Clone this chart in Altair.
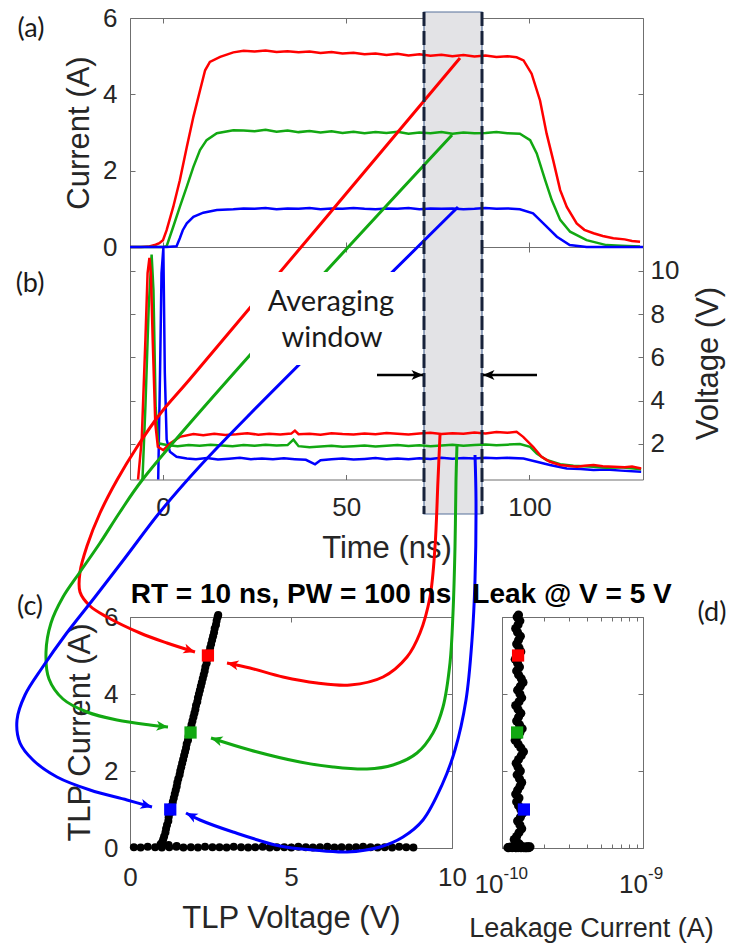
import math
import altair as alt
import pandas as pd

# ===================== data =====================
# (a) TLP current waveforms: time (ns) and current (A)
t_a_red = [-9, -6, -4, -2, -1, 0, 1, 2.8, 4.6, 6.5, 8.3, 10.1, 11.5, 12.8, 15.6, 19.2, 22, 25, 28, 31,
           34, 37, 40, 43, 46, 49, 52, 55, 58, 61, 64, 67, 70, 73, 76, 79, 82, 85, 88, 91,
           94, 96.5, 98.4, 100.6, 102.9, 104.7, 106.5, 108.4, 110.2, 112.9, 115, 117.5, 120, 122.9, 126, 128, 130.2]
i_a_red = [0, 0, 0.01, 0.06, 0.1, 0.18, 0.44, 1.05, 1.75, 2.62, 3.41, 4.1, 4.63, 4.85, 4.98, 5.1, 5.14, 5.12, 5.15, 5.11,
           5.13, 5.1, 5.12, 5.08, 5.11, 5.07, 5.09, 5.05, 5.07, 5.03, 5.06, 5.02, 5.05, 5.01, 5.04, 5.0, 5.03, 4.99, 5.02, 4.98,
           5.0, 4.97, 4.89, 4.54, 3.84, 2.97, 2.27, 1.49, 1.05, 0.62, 0.45, 0.36, 0.29, 0.23, 0.2, 0.16, 0.14]
t_a_green = [-9, -2, 0, 1, 2.8, 4.6, 6.5, 8.3, 10.1, 11.9, 14.7, 19.2, 22, 25, 28, 31, 34, 37, 40, 43,
             46, 49, 52, 55, 58, 61, 64, 67, 70, 73, 76, 79, 82, 85, 88, 91, 94, 97.4, 100.2, 102,
             104.3, 106.1, 108.4, 111.1, 115.6, 121, 125, 130.2]
i_a_green = [0, 0, 0, 0.02, 0.53, 1.05, 1.58, 2.1, 2.54, 2.8, 2.98, 3.06, 3.05, 3.03, 3.07, 3.02, 3.05, 3.01, 3.04, 3.0,
             3.03, 2.99, 3.02, 2.98, 3.01, 2.99, 3.02, 2.97, 3.0, 2.98, 3.01, 2.97, 3.0, 2.98, 2.99, 3.01, 2.98, 2.97, 2.8, 2.45,
             1.75, 1.23, 0.71, 0.4, 0.18, 0.05, 0.03, 0.01]
t_a_blue = [-9, 1, 3.7, 4.6, 5.4, 6.5, 8.3, 11, 14.7, 19.2, 22, 25, 28, 31, 34, 37, 40, 43, 46, 49,
            52, 55, 58, 61, 64, 67, 70, 73, 76, 79, 82, 85, 88, 91, 94, 97.4, 101, 103.8, 107.5, 111, 115.6, 131]
i_a_blue = [0, 0, 0.02, 0.23, 0.44, 0.62, 0.79, 0.9, 0.97, 0.99, 1.01, 1.0, 1.02, 0.99, 1.01, 1.0, 1.02, 0.99, 1.01, 1.0,
            1.02, 1.0, 0.99, 1.01, 1.0, 1.02, 0.99, 1.01, 1.0, 1.01, 0.99, 1.0, 1.02, 1.0, 1.01, 0.99, 0.88, 0.62, 0.27, 0.05, 0.0, 0.0]

# (b) TLP voltage waveforms: time (ns) and voltage (V)
t_b_red = [-6.8, -5.8, -4.8, -4.2, -3.7, -3.3, -2.8, -2.1, -1.4, 0.1, 1.9, 4.6, 8.3, 11, 14, 17, 20, 23, 26, 29,
           32, 35, 36, 37, 40, 43, 46, 49, 52, 55, 58, 61, 64, 67, 70, 73, 76, 79, 82, 85,
           88, 91, 94, 96.5, 98.3, 101, 103.3, 105.6, 108.4, 111, 113, 115, 117.5, 120, 123, 126, 128, 130.5]
v_b_red = [0.36, 2.2, 6.8, 9.9, 10.6, 9.9, 6.8, 2.95, 1.87, 1.72, 2.03, 2.33, 2.46, 2.4, 2.47, 2.42, 2.45, 2.5, 2.43, 2.47,
           2.44, 2.48, 2.62, 2.45, 2.47, 2.43, 2.5, 2.46, 2.44, 2.49, 2.45, 2.51, 2.47, 2.44, 2.48, 2.52, 2.46, 2.5, 2.47, 2.53,
           2.49, 2.55, 2.52, 2.56, 2.33, 1.87, 1.41, 1.18, 1.03, 0.98, 0.95, 1.0, 1.03, 0.97, 0.95, 0.93, 0.96, 0.87]
t_b_green = [-5.6, -4.8, -3.9, -3.1, -2.6, -2.0, -1.3, 1, 4, 7, 10, 13, 16, 19, 22, 25, 28, 31, 34, 35.6,
             37, 40, 43, 46, 49, 52, 55, 58, 61, 64, 67, 70, 73, 76, 79, 82, 85, 88, 91, 94,
             97.4, 100.2, 102, 104.7, 108.4, 112, 117.5, 121, 125, 130.5]
v_b_green = [0.36, 3.7, 8.3, 10.75, 9.1, 3.7, 2.03, 1.95, 1.9, 1.95, 1.92, 1.97, 1.93, 1.9, 1.95, 1.92, 1.96, 1.93, 1.95, 2.2,
             1.9, 1.85, 1.88, 1.92, 1.87, 1.9, 1.93, 1.89, 1.92, 1.95, 1.91, 1.94, 1.9, 1.93, 1.96, 1.92, 1.95, 1.98, 1.94, 1.97,
             2.0, 1.87, 1.56, 1.26, 1.07, 1.0, 0.95, 0.9, 0.92, 0.83]
t_b_blue = [-1.3, -0.8, -0.4, 0.1, 0.5, 1, 1.9, 3.7, 6.5, 9, 12, 15, 18, 21, 24, 27, 30, 33, 36, 39,
            41.5, 43, 46, 49, 52, 55, 58, 61, 64, 67, 70, 73, 76, 79, 82, 85, 88, 91, 94, 98.4,
            102, 105.6, 110.2, 114, 117.5, 121, 125, 130.5]
v_b_blue = [0.36, 5.3, 9.9, 11.05, 5.3, 2.2, 1.64, 1.41, 1.33, 1.3, 1.35, 1.28, 1.32, 1.36, 1.3, 1.33, 1.29, 1.34, 1.3, 1.27,
            1.06, 1.25, 1.3, 1.33, 1.28, 1.31, 1.35, 1.3, 1.33, 1.29, 1.34, 1.31, 1.36, 1.32, 1.35, 1.33, 1.37, 1.34, 1.36, 1.33,
            1.18, 1.03, 0.87, 0.84, 0.8, 0.82, 0.77, 0.72]

# (c)/(d) TLP I-V points and leakage (x 1e-10 A) after each pulse
zero_v = [0.12, 0.33, 0.55, 0.78, 0.99, 1.22, 1.44, 1.66, 1.89, 2.11,
          2.33, 2.56, 2.78, 3.0, 3.22, 3.45, 3.67, 3.89, 4.12, 4.34,
          4.56, 4.79, 5.01, 5.23, 5.46, 5.68, 5.9, 6.13, 6.35, 6.57,
          6.8, 7.02, 7.24, 7.47, 7.69, 7.91, 8.14, 8.36, 8.58, 8.8]
zero_i = [0.02, 0.01, 0.03, 0.02, 0.01, 0.02, 0.03, 0.01, 0.02, 0.01,
          0.03, 0.02, 0.02, 0.01, 0.03, 0.02, 0.01, 0.02, 0.03, 0.01,
          0.02, 0.02, 0.01, 0.03, 0.02, 0.01, 0.02, 0.03, 0.01, 0.02,
          0.01, 0.02, 0.03, 0.02, 0.01, 0.02, 0.01, 0.03, 0.02, 0.01]
zero_leak = [1.42, 1.18, 1.5, 1.3, 1.12, 1.56, 1.25, 1.35, 1.15, 1.48,
             1.22, 1.44, 1.32, 1.1, 1.53, 1.27, 1.38, 1.18, 1.58, 1.3,
             1.2, 1.46, 1.26, 1.36, 1.13, 1.51, 1.33, 1.23, 1.42, 1.16,
             1.55, 1.27, 1.35, 1.19, 1.48, 1.32, 1.25, 1.4, 1.14, 1.45]
rise_i = [0.05, 0.08, 0.1, 0.15, 0.22, 0.3, 0.4, 0.5, 0.6, 0.7,
          0.8, 0.9, 1.0, 1.1, 1.2, 1.3, 1.4, 1.5, 1.6, 1.7,
          1.8, 1.9, 2.0, 2.1, 2.2, 2.3, 2.4, 2.5, 2.6, 2.7,
          2.8, 2.9, 3.0, 3.1, 3.2, 3.3, 3.4, 3.5, 3.6, 3.7,
          3.8, 3.9, 4.0, 4.1, 4.2, 4.3, 4.4, 4.5, 4.6, 4.7,
          4.8, 4.9, 5.0, 5.1, 5.2, 5.3, 5.4, 5.5, 5.6, 5.7,
          5.8, 5.9, 6.0, 6.05]
rise_v = [1.45, 1.2, 0.95, 1.0, 1.03, 1.06, 1.1, 1.12, 1.15, 1.19,
          1.2, 1.24, 1.27, 1.3, 1.33, 1.36, 1.39, 1.42, 1.45, 1.47,
          1.5, 1.54, 1.56, 1.59, 1.62, 1.65, 1.68, 1.71, 1.74, 1.76,
          1.8, 1.82, 1.85, 1.88, 1.91, 1.94, 1.97, 2.0, 2.03, 2.05,
          2.09, 2.11, 2.14, 2.17, 2.2, 2.23, 2.26, 2.29, 2.32, 2.34,
          2.38, 2.4, 2.43, 2.46, 2.49, 2.52, 2.55, 2.58, 2.61, 2.63,
          2.67, 2.69, 2.72, 2.74]
rise_leak = [1.30, 1.26, 1.33, 1.28, 1.22, 1.27, 1.32, 1.38, 1.34, 1.29,
             1.35, 1.40, 1.36, 1.31, 1.27, 1.32, 1.25, 1.29, 1.34, 1.38,
             1.33, 1.28, 1.35, 1.30, 1.26, 1.31, 1.37, 1.42, 1.36, 1.30,
             1.24, 1.29, 1.34, 1.39, 1.33, 1.27, 1.31, 1.36, 1.30, 1.25,
             1.32, 1.38, 1.34, 1.29, 1.35, 1.41, 1.37, 1.31, 1.27, 1.33,
             1.29, 1.24, 1.30, 1.36, 1.32, 1.27, 1.31, 1.35, 1.29, 1.25,
             1.30, 1.34, 1.28, 1.31]
# highlighted (averaged) points, one per waveform
sq_key = ["r", "g", "b"]
sq_v = [2.42, 1.88, 1.25]
sq_i = [5, 3, 1]
sq_leak = [1.30, 1.28, 1.43]
# leakage axis tick labels (base, exponent)
d_tick_vals = [1e-10, 1e-9]
d_tick_exp = ["-10", "-9"]

# ===================== layout / style =====================
W, H = 732, 945
FONT = "Liberation Sans"
FONT2 = "Lato"
AXC = "#6f6f6f"
LABC = "#262626"
COLOR = alt.Scale(domain=["r", "g", "b", "k"], range=["#ff0000", "#12a812", "#0000ff", "#000000"])


def lin(domain, rng):
    return alt.Scale(domain=domain, range=rng, nice=False, zero=False)


# pixel frames of the panels
sT = lin([-9, 131], [130, 643])       # time axis (a),(b)
sA = lin([0, 6], [247, 18])           # current (a)
sB = lin([0.36, 11.1], [479.5, 247])  # voltage (b)
sCX = lin([0, 10], [130, 452])        # TLP voltage (c)
sCY = lin([0, 6], [848, 617])         # TLP current (c),(d)
sDX = alt.Scale(type="log", domain=[1e-10, 1e-9], range=[502, 643], nice=False)
sPX = lin([0, W], [0, W])             # annotation overlay
sPY = lin([0, H], [0, H])


def ax(orient, offset, values, labels=False, ticks=True, domain=True, **kw):
    p = dict(orient=orient, offset=offset, values=values, labels=labels, ticks=ticks,
             tickSize=(kw.pop("tickSize", 5) if ticks else 0), domain=domain, grid=False,
             domainColor=AXC, domainWidth=1, tickColor=AXC, tickWidth=1,
             labelFont=FONT, labelFontSize=26, labelColor=LABC, labelFlush=False, labelOverlap=False,
             titleFont=FONT, titleFontSize=31, titleColor=LABC, titleFontWeight="normal",
             titleAlign="center", titleBaseline="middle")
    if "title" not in kw:
        p["title"] = None
    p.update(kw)
    return alt.Axis(**p)


def axl(xs, ys, xd, yd, xa=None, ya=None):
    df = pd.DataFrame({"x": xd, "y": yd})
    return alt.Chart(df).mark_point(opacity=0).encode(
        x=alt.X("x:Q", scale=xs, axis=xa), y=alt.Y("y:Q", scale=ys, axis=ya))


def series_df(items, xname, yname):
    frames = []
    for xs, ys, key in items:
        frames.append(pd.DataFrame({xname: xs, yname: ys, "c": key, "o": list(range(len(xs)))}))
    return pd.concat(frames, ignore_index=True)


layers = []

# ---- averaging window (background) ----
win = pd.DataFrame({"x": [424], "x2": [482], "y": [12], "y2": [514]})
layers.append(alt.Chart(win).mark_rect(fill="#e3e3e6", stroke="#56709a", strokeWidth=1.2).encode(
    x=alt.X("x:Q", scale=sPX, axis=None), x2="x2:Q", y=alt.Y("y:Q", scale=sPY, axis=None), y2="y2:Q"))

# ---- (a) current waveforms ----
dfa = series_df([(t_a_red, i_a_red, "r"), (t_a_green, i_a_green, "g"), (t_a_blue, i_a_blue, "b")], "t", "v")
layers.append(alt.Chart(dfa).mark_line(strokeWidth=2.5).encode(
    x=alt.X("t:Q", scale=sT, axis=None), y=alt.Y("v:Q", scale=sA, axis=None),
    color=alt.Color("c:N", scale=COLOR, legend=None), order="o:Q"))

# ---- (b) voltage waveforms ----
dfb = series_df([(t_b_blue, v_b_blue, "b"), (t_b_green, v_b_green, "g"), (t_b_red, v_b_red, "r")], "t", "v")
layers.append(alt.Chart(dfb).mark_line(strokeWidth=2.5).encode(
    x=alt.X("t:Q", scale=sT, axis=None), y=alt.Y("v:Q", scale=sB, axis=None),
    color=alt.Color("c:N", scale=COLOR, legend=None), order="o:Q"))

# ---- (c) TLP I-V and (d) leakage ----
dfc = pd.DataFrame({"v": zero_v + rise_v, "i": zero_i + rise_i,
                    "leak": [m * 1e-10 for m in zero_leak + rise_leak]})
layers.append(alt.Chart(dfc).mark_circle(size=64, color="black", opacity=1).encode(
    x=alt.X("v:Q", scale=sCX, axis=None), y=alt.Y("i:Q", scale=sCY, axis=None)))
layers.append(alt.Chart(dfc).mark_circle(size=82, color="black", opacity=1).encode(
    x=alt.X("leak:Q", scale=sDX, axis=None), y=alt.Y("i:Q", scale=sCY, axis=None)))

# ---- connector curves (annotation overlay, pixel coordinates) ----
red_left = [(460, 58), (190, 379), (160, 414), (137, 447), (117, 480), (100, 513), (87, 546), (80, 572),
            (80, 592), (90, 606), (107, 617), (140, 633), (167, 643), (195, 652)]
green_left = [(452, 135), (250, 355), (143, 479), (120, 512), (100, 543), (80, 572), (63, 597), (51, 623),
              (46, 652), (49, 679), (63, 699), (87, 712), (117, 720), (150, 725), (168, 727)]
blue_left = [(458, 207), (250, 414), (200, 466), (160, 512), (125, 558), (95, 597), (66, 634), (42, 668),
             (25, 695), (17, 720), (20, 743), (33, 760), (57, 777), (90, 790), (127, 800), (152, 807)]
red_right = [(440, 435), (438, 480), (435, 547), (430, 597), (420, 633), (407, 657), (383, 677), (350, 685),
             (317, 683), (283, 677), (250, 668), (227, 663)]
green_right = [(457, 444), (456, 480), (455, 547), (453, 613), (450, 663), (443, 707), (433, 733), (417, 753),
               (393, 765), (367, 769), (333, 767), (300, 762), (250, 750), (211, 738)]
blue_right = [(475, 455), (476, 500), (475, 580), (472, 640), (466, 700), (455, 750), (442, 785), (423, 820),
              (403, 837), (380, 847), (347, 852), (313, 850), (280, 846), (233, 832), (200, 820), (186, 813)]
black_in = [(377, 375), (423, 375)]
black_out = [(537, 375), (483, 375)]

curves = [("r", red_left), ("g", green_left), ("b", blue_left),
          ("r", red_right), ("g", green_right), ("b", blue_right)]
arrows = [("k", black_in), ("k", black_out)]


def path_df(items):
    rows = []
    for gi, (c, pts) in enumerate(items):
        for oi, (x, y) in enumerate(pts):
            rows.append({"x": x, "y": y, "c": c, "g": gi, "o": oi})
    return pd.DataFrame(rows)


layers.append(alt.Chart(path_df(curves)).mark_line(strokeWidth=3, interpolate="catmull-rom").encode(
    x=alt.X("x:Q", scale=sPX, axis=None), y=alt.Y("y:Q", scale=sPY, axis=None),
    color=alt.Color("c:N", scale=COLOR, legend=None), detail="g:N", order="o:Q"))

# white text box behind the label
box = pd.DataFrame({"x": [250], "x2": [400], "y": [272], "y2": [365]})
layers.append(alt.Chart(box).mark_rect(fill="white").encode(
    x=alt.X("x:Q", scale=sPX, axis=None), x2="x2:Q", y=alt.Y("y:Q", scale=sPY, axis=None), y2="y2:Q"))

# window dashed edges
edges = pd.DataFrame({"x": [424, 482], "y": [12, 12], "y2": [514, 514]})
layers.append(alt.Chart(edges).mark_rule(color="#17223b", strokeWidth=3, strokeDash=[14, 5]).encode(
    x=alt.X("x:Q", scale=sPX, axis=None), y=alt.Y("y:Q", scale=sPY, axis=None), y2="y2:Q"))

# black arrows
layers.append(alt.Chart(path_df(arrows)).mark_line(strokeWidth=2.6).encode(
    x=alt.X("x:Q", scale=sPX, axis=None), y=alt.Y("y:Q", scale=sPY, axis=None),
    color=alt.Color("c:N", scale=COLOR, legend=None), detail="g:N", order="o:Q"))

# highlighted squares in (c) and (d)
dsq = pd.DataFrame({"v": sq_v, "i": sq_i, "leak": [m * 1e-10 for m in sq_leak], "c": sq_key})
layers.append(alt.Chart(dsq).mark_square(size=150, opacity=1).encode(
    x=alt.X("v:Q", scale=sCX, axis=None), y=alt.Y("i:Q", scale=sCY, axis=None),
    color=alt.Color("c:N", scale=COLOR, legend=None)))
layers.append(alt.Chart(dsq).mark_square(size=150, opacity=1).encode(
    x=alt.X("leak:Q", scale=sDX, axis=None), y=alt.Y("i:Q", scale=sCY, axis=None),
    color=alt.Color("c:N", scale=COLOR, legend=None)))

# arrowheads at the end of every connector
heads = []
for c, pts in curves + arrows:
    (x1, y1), (x2, y2) = pts[-2], pts[-1]
    ang = (math.degrees(math.atan2(y2 - y1, x2 - x1)) + 360) % 360
    heads.append({"x": x2, "y": y2, "ang": ang, "c": c})
layers.append(alt.Chart(pd.DataFrame(heads)).mark_point(
    shape="M0,0L-1.15,-0.5L-0.85,0L-1.15,0.5Z", filled=True, size=400, opacity=1).encode(
    x=alt.X("x:Q", scale=sPX, axis=None), y=alt.Y("y:Q", scale=sPY, axis=None),
    color=alt.Color("c:N", scale=COLOR, legend=None), angle=alt.Angle("ang:Q", scale=None)))


def text_layer(items, font, size, weight="normal", color="#1a1a1a"):
    df = pd.DataFrame(items, columns=["text", "x", "y"])
    return alt.Chart(df).mark_text(font=font, fontSize=size, fontWeight=weight, color=color,
                                   align="center", baseline="middle").encode(
        x=alt.X("x:Q", scale=sPX, axis=None), y=alt.Y("y:Q", scale=sPY, axis=None), text="text:N")


layers.append(text_layer([("Averaging", 331, 302), ("window", 332, 338)], FONT2, 29))
layers.append(text_layer([("(a)", 31, 29), ("(b)", 30, 284), ("(c)", 30, 607), ("(d)", 712, 613)], FONT2, 27))
layers.append(text_layer([("RT = 10 ns, PW = 100 ns", 291, 595), ("Leak @ V = 5 V", 572, 595)], FONT, 28,
                         "bold", "#000000"))

# leakage axis labels: "10" with a raised exponent, centred on each tick as a whole
for val, ex, shift in zip(d_tick_vals, d_tick_exp, [1.5, 5]):
    dl = pd.DataFrame({"x": [val], "y": [0], "b": ["10"], "e": [ex]})
    layers.append(alt.Chart(dl).mark_text(font=FONT, fontSize=26, color=LABC, align="right",
                                          baseline="middle", dx=shift, dy=37).encode(
        x=alt.X("x:Q", scale=sDX, axis=None), y=alt.Y("y:Q", scale=sCY, axis=None), text="b:N"))
    layers.append(alt.Chart(dl).mark_text(font=FONT, fontSize=17, color=LABC, align="left",
                                          baseline="middle", dx=shift, dy=26).encode(
        x=alt.X("x:Q", scale=sDX, axis=None), y=alt.Y("y:Q", scale=sCY, axis=None), text="e:N"))

# ---- axes (labels outside, ticks pointing inward like the original) ----
tv = [0, 50, 100]
ay = [0, 2, 4, 6]
by = [2, 4, 6, 8, 10]
cx = [0, 5, 10]
dall = [k * 1e-10 for k in range(1, 11)]
TD, AD, BD, CXD, CYD, DXD = [-9, 131], [0, 6], [0.36, 11.1], [0, 10], [0, 6], [1e-10, 1e-9]

# (a)
layers.append(axl(sT, sA, TD, AD,
                  xa=ax("top", -247, tv),
                  ya=ax("left", -130, ay, labels=True, ticks=False, labelPadding=13,
                        title="Current (A)", titleX=-51, titleY=132.5, titleAngle=270)))
layers.append(axl(sT, sA, TD, AD, xa=ax("bottom", -927, tv), ya=ax("right", -602, ay, domain=False)))
layers.append(axl(sT, sA, TD, AD, ya=ax("left", -643, ay)))
# (b)
layers.append(axl(sT, sB, TD, BD,
                  xa=ax("bottom", -465.5, tv, labels=True, ticks=False, labelPadding=15,
                        title="Time (ns)", titleX=386.5, titleY=68.5),
                  ya=ax("right", -89, by, labels=True, ticks=False, labelPadding=7,
                        title="Voltage (V)", titleX=65, titleY=363, titleAngle=270)))
layers.append(axl(sT, sB, TD, BD, xa=ax("top", -479.5, tv, domain=False), ya=ax("right", -602, by)))
layers.append(axl(sT, sB, TD, BD, xa=ax("bottom", -698, tv, domain=False), ya=ax("left", -643, by, domain=False)))
# (c)
layers.append(axl(sCX, sCY, CXD, CYD,
                  xa=ax("bottom", -97, cx, labels=True, ticks=False, labelPadding=16,
                        title="TLP Voltage (V)", titleX=291, titleY=70),
                  ya=ax("left", -130, ay, labels=True, ticks=False, labelPadding=12,
                        title="TLP Current (A)", titleX=-50, titleY=732, titleAngle=270)))
layers.append(axl(sCX, sCY, CXD, CYD, xa=ax("top", -848, cx, domain=False), ya=ax("right", -602, ay, domain=False)))
layers.append(axl(sCX, sCY, CXD, CYD, xa=ax("bottom", -328, cx), ya=ax("left", -452, ay)))
# (d)
layers.append(axl(sDX, sCY, DXD, CYD,
                  xa=ax("bottom", -97, d_tick_vals, ticks=False,
                        title="Leakage Current (A)", titleX=591, titleY=80, titleFontSize=27),
                  ya=ax("right", -230, ay)))
layers.append(axl(sDX, sCY, DXD, CYD, xa=ax("top", -848, dall, domain=False, tickSize=4), ya=ax("left", -643, ay)))
layers.append(axl(sDX, sCY, DXD, CYD, xa=ax("bottom", -328, dall, tickSize=4)))

chart = alt.layer(*layers).resolve_scale(x="independent", y="independent").properties(
    width=W, height=H, padding=0, autosize=alt.AutoSizeParams(type="none")
).configure_view(stroke=None)

chart.save("out.html", embed_options={"renderer": "svg", "actions": False})
